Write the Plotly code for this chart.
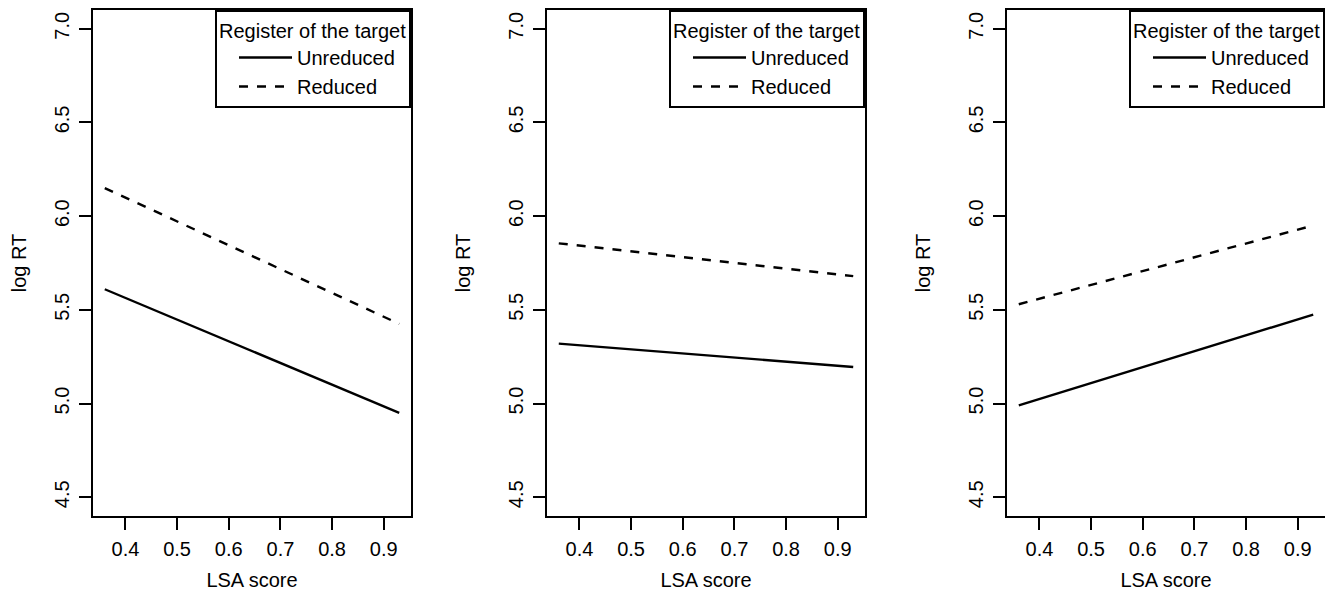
import plotly.graph_objects as go

# ---- data ----
lsa_x = [0.36, 0.93]
panel1_unreduced = [5.61, 4.95]
panel1_reduced = [6.15, 5.425]
panel2_unreduced = [5.32, 5.195]
panel2_reduced = [5.855, 5.68]
panel3_unreduced = [4.99, 5.475]
panel3_reduced = [5.53, 5.95]
series_names = ["Unreduced", "Reduced"]
legend_title = "Register of the target"
x_ticks = [0.4, 0.5, 0.6, 0.7, 0.8, 0.9]
y_ticks = [4.5, 5.0, 5.5, 6.0, 6.5, 7.0]

panels = [
    (panel1_unreduced, panel1_reduced),
    (panel2_unreduced, panel2_reduced),
    (panel3_unreduced, panel3_reduced),
]

# the page body has an 8px default margin, so the figure is sized to fit
W, H = 1325, 583
FONT = "Liberation Sans, Arial, Helvetica, sans-serif"
FS = 20

# panel pixel extents (figure coordinates)
px_left = [85, 539, 999]
px_width = 318

fig = go.Figure()
legend_ids = ["legend", "legend2", "legend3"]
for i, (unred, red) in enumerate(panels):
    suffix = "" if i == 0 else str(i + 1)
    fig.add_trace(go.Scatter(
        x=lsa_x, y=unred, mode="lines", name=series_names[0],
        line=dict(color="black", width=2.4),
        xaxis="x" + suffix, yaxis="y" + suffix, legend=legend_ids[i],
    ))
    fig.add_trace(go.Scatter(
        x=lsa_x, y=red, mode="lines", name=series_names[1],
        line=dict(color="black", width=2.4, dash="9px,9px"),
        xaxis="x" + suffix, yaxis="y" + suffix, legend=legend_ids[i],
    ))

layout = dict(
    width=W, height=H,
    margin=dict(l=0, r=0, t=2, b=75, autoexpand=False),
    paper_bgcolor="white", plot_bgcolor="white",
    font=dict(family=FONT, size=FS, color="black"),
    showlegend=True,
)

xr = [0.36 - 0.0228, 0.93 + 0.0228]
yr = [4.4, 7.1]
for i in range(3):
    suffix = "" if i == 0 else str(i + 1)
    d0 = px_left[i] / W
    d1 = (px_left[i] + px_width) / W
    layout["xaxis" + suffix] = dict(
        domain=[d0, d1], range=xr, tickvals=x_ticks,
        ticktext=[f"{v:.1f}" for v in x_ticks],
        showline=True, mirror=True, linecolor="black", linewidth=2,
        ticks="outside", ticklen=12, tickwidth=2, tickcolor="black",
        showgrid=False, zeroline=False, ticklabelstandoff=2,
        title=dict(text="LSA score", standoff=16, font=dict(size=FS)),
        anchor="y" + suffix, tickfont=dict(size=FS), automargin=False,
    )
    layout["yaxis" + suffix] = dict(
        domain=[0, 1], range=yr, tickvals=y_ticks,
        ticktext=[f"{v:.1f}" for v in y_ticks],
        showline=True, mirror=True, linecolor="black", linewidth=2,
        ticks="outside", ticklen=12, tickwidth=2, tickcolor="black",
        showgrid=False, zeroline=False, tickangle=-90, ticklabelstandoff=2,
        title=dict(text="log RT", standoff=29, font=dict(size=FS)),
        anchor="x" + suffix, tickfont=dict(size=FS), automargin=False,
    )
    layout[legend_ids[i]] = dict(
        x=d1, xanchor="right", y=1, yanchor="top",
        bordercolor="black", borderwidth=2, bgcolor="white",
        title=dict(text=legend_title, font=dict(size=FS)),
        font=dict(size=FS), tracegroupgap=0,
        indentation=17, itemwidth=53,
    )

fig.update_layout(**layout)
fig.write_html("out.html")
